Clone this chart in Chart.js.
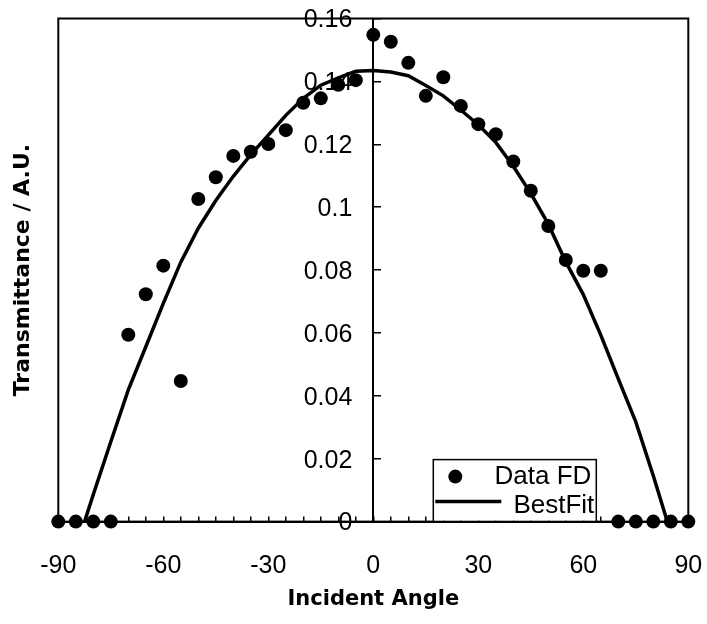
<!DOCTYPE html>
<html><head><meta charset="utf-8">
<script src="https://cdn.jsdelivr.net/npm/chart.js@4"></script>
<style>html,body{margin:0;padding:0;background:#fff;}#wrap{width:707px;height:624px;}</style>
</head><body><div id="wrap"><canvas id="c" width="707" height="624"></canvas></div>
<script>
// ---- data ----
const dataAngles = [-90,-85,-80,-75,-70,-65,-60,-55,-50,-45,-40,-35,-30,-25,-20,-15,-10,-5,0,5,10,15,20,25,30,35,40,45,50,55,60,65,70,75,80,85,90];
const dataValues = [0,0,0,0,0.0594,0.0723,0.0814,0.0447,0.1026,0.1095,0.1163,0.1176,0.1201,0.1245,0.1332,0.1346,0.1389,0.1404,0.1548,0.1526,0.1459,0.1354,0.1413,0.1322,0.1264,0.1232,0.1145,0.1052,0.0940,0.0832,0.0798,0.0798,0,0,0,0,0];
const fitAngles = [-82.5,-80,-75,-70,-65,-60,-55,-50,-45,-40,-35,-30,-25,-20,-15,-10,-5,0,5,10,15,20,25,30,35,40,45,50,55,60,65,70,75,80,84];
const fitValues = [0,0.0086,0.0254,0.0419,0.0556,0.0694,0.0825,0.0933,0.1021,0.1098,0.1167,0.1229,0.1292,0.1346,0.1388,0.1411,0.1432,0.1435,0.1430,0.1418,0.1387,0.1354,0.1309,0.1262,0.1206,0.1130,0.1044,0.0946,0.0826,0.0722,0.0593,0.0454,0.0317,0.0146,0];
const xTickLabels = ['-90','-60','-30','0','30','60','90'];
const yTickLabels = ['0','0.02','0.04','0.06','0.08','0.1','0.12','0.14','0.16'];
const seriesNames = ['Data FD','BestFit'];
const xTitle = 'Incident Angle';
const yTitle = 'Transmittance / A.U.';

const toXY = (xs, ys) => xs.map((x, i) => ({x: x, y: ys[i]}));

Chart.defaults.color = '#000';
Chart.defaults.font.family = '"Liberation Sans", Arial, sans-serif';

const noPad = (scale) => { scale.paddingLeft = 0; scale.paddingRight = 0; scale.paddingTop = 0; scale.paddingBottom = 0; };

const framePlugin = {
  id: 'frame',
  beforeDatasetsDraw(chart) {
    const {ctx, chartArea: a} = chart;
    ctx.save();
    ctx.strokeStyle = '#000';
    ctx.lineWidth = 2;
    ctx.strokeRect(a.left, a.top, a.right - a.left, a.bottom - a.top);
    ctx.restore();
  }
};

const legendPlugin = {
  id: 'boxLegend',
  afterDraw(chart) {
    const {ctx, chartArea: a} = chart;
    const bx = a.right - 255, by = a.bottom - 62, bw = 163, bh = 62;
    ctx.save();
    ctx.fillStyle = '#fff';
    ctx.fillRect(bx, by, bw, bh - 1);
    ctx.strokeStyle = '#000';
    ctx.lineWidth = 1.5;
    ctx.strokeRect(bx, by, bw, bh);
    ctx.fillStyle = '#000';
    ctx.beginPath();
    ctx.arc(bx + 22, by + 17, 7, 0, Math.PI * 2);
    ctx.fill();
    ctx.lineWidth = 3.5;
    ctx.beginPath();
    ctx.moveTo(bx + 2, by + 42);
    ctx.lineTo(bx + 68, by + 42);
    ctx.stroke();
    ctx.font = '26px "Liberation Sans", Arial, sans-serif';
    ctx.textAlign = 'right';
    ctx.textBaseline = 'middle';
    ctx.fillText(seriesNames[0], bx + bw - 5, by + 17);
    ctx.fillText(seriesNames[1], bx + bw - 2, by + 46);
    ctx.restore();
  }
};

new Chart(document.getElementById('c'), {
  type: 'scatter',
  data: {
    datasets: [
      {
        label: seriesNames[0],
        data: toXY(dataAngles, dataValues),
        showLine: false,
        pointRadius: 7,
        pointHoverRadius: 7,
        pointBorderWidth: 0,
        pointBackgroundColor: '#000',
        borderColor: '#000',
        clip: false,
        order: 1
      },
      {
        label: seriesNames[1],
        data: toXY(fitAngles, fitValues),
        showLine: true,
        pointRadius: 0,
        borderColor: '#000',
        borderWidth: 3.5,
        tension: 0,
        clip: false,
        order: 2
      }
    ]
  },
  options: {
    responsive: false,
    animation: false,
    events: [],
    layout: {padding: {top: 18.5, right: 18.7, bottom: 8.4, left: 0}},
    plugins: {legend: {display: false}, tooltip: {enabled: false}},
    scales: {
      yTitle: {
        axis: 'y',
        type: 'linear',
        position: 'left',
        display: true,
        grid: {display: false, drawTicks: false},
        border: {display: false},
        ticks: {display: false},
        afterFit: noPad,
        title: {
          display: true,
          text: yTitle,
          color: '#000',
          font: {family: '"DejaVu Sans", sans-serif', size: 22, weight: 'bold'},
          padding: {top: 9.8, bottom: 22.1}
        }
      },
      x: {
        type: 'linear',
        position: 'bottom',
        min: -90,
        max: 90,
        ticks: {
          stepSize: 5,
          autoSkip: false,
          maxRotation: 0,
          padding: 35,
          font: {size: 25},
          color: '#000',
          callback: (v) => { const s = String(v); return xTickLabels.includes(s) ? s : ''; }
        },
        grid: {drawOnChartArea: false, drawTicks: true, tickLength: -5, color: '#000', lineWidth: 1.5},
        border: {display: true, color: '#000', width: 2},
        afterFit: (scale) => { noPad(scale); scale.height = 94; },
        title: {
          display: true,
          text: xTitle,
          color: '#000',
          font: {family: '"DejaVu Sans", sans-serif', size: 21, weight: 'bold'},
          padding: {top: 0, bottom: 3}
        }
      },
      y: {
        type: 'linear',
        position: {x: 0},
        min: 0,
        max: 0.16,
        ticks: {stepSize: 0.02, display: false},
        grid: {drawOnChartArea: false, drawTicks: true, tickLength: -9, color: '#000', lineWidth: 1.5},
        border: {display: true, color: '#000', width: 2},
        afterFit: noPad
      },
      yLabels: {
        axis: 'y',
        type: 'linear',
        position: {x: -6},
        min: 0,
        max: 0.16,
        ticks: {
          stepSize: 0.02,
          padding: 0,
          labelOffset: 2,
          font: {size: 25},
          color: '#000',
          callback: (v, i) => yTickLabels[i]
        },
        grid: {display: false, drawTicks: false},
        border: {display: false},
        afterFit: noPad
      }
    }
  },
  plugins: [framePlugin, legendPlugin]
});
</script>
</body></html>
